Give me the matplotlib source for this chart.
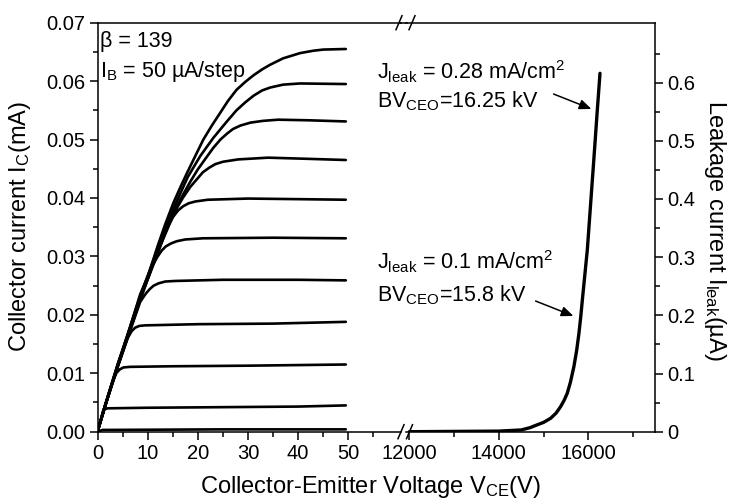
import matplotlib
matplotlib.use("Agg")
import matplotlib.pyplot as plt
from matplotlib.lines import Line2D
from matplotlib.patches import FancyArrowPatch
from matplotlib.ticker import MultipleLocator, FixedLocator

plt.rcParams['font.family'] = ['Liberation Sans', 'DejaVu Sans']
plt.rcParams['mathtext.default'] = 'regular'

# ---- Output characteristics (V_CE in V, I_C in mA), IB = 0 ... 500 uA
v0 = [0, 1, 25, 49.5]
i0 = [0, 0.0003, 0.0004, 0.0004]
v1 = [0, 1.2, 2, 10, 25, 40, 49.5]
i1 = [0, 0.0038, 0.0040, 0.0041, 0.0042, 0.0043, 0.0045]
v2 = [0, 1.5, 3, 3.8, 4.5, 5.2, 6.5, 15, 30, 49.5]
i2 = [0, 0.0042, 0.0085, 0.0101, 0.0107, 0.0110, 0.0111, 0.0112, 0.0113, 0.0115]
v3 = [0, 1.5, 4, 6, 6.8, 7.5, 8.3, 9.5, 20, 35, 49.5]
i3 = [0, 0.0043, 0.0110, 0.0160, 0.0172, 0.0178, 0.0181, 0.0182, 0.0184, 0.0185, 0.0188]
v4 = [0, 1.5, 4, 8.5, 9.6, 10.4, 11.2, 12.2, 13.5, 15.5, 25, 40, 49.5]
i4 = [0, 0.0044, 0.0111, 0.0222, 0.0236, 0.0244, 0.0250, 0.0254, 0.0257, 0.0258, 0.0260, 0.0260, 0.0259]
v5 = [0, 1.5, 4, 8.5, 11, 12, 12.8, 13.6, 14.6, 15.8, 17.5, 21, 35, 49.5]
i5 = [0, 0.0044, 0.0111, 0.0225, 0.0285, 0.0300, 0.0310, 0.0317, 0.0322, 0.0326, 0.0329, 0.0331, 0.0332, 0.0331]
v6 = [0, 1.5, 4, 8.5, 12, 14, 15.1, 16.1, 17.1, 18.2, 19.5, 22, 30, 40, 49.5]
i6 = [0, 0.0044, 0.0112, 0.0227, 0.0305, 0.0352, 0.0368, 0.0379, 0.0386, 0.0391, 0.0394, 0.0397, 0.0399, 0.0398, 0.0397]
v7 = [0, 1.5, 4, 8.5, 12, 15.5, 17, 18.5, 19.8, 21, 22.3, 23.5, 25, 28, 34, 42, 49.5]
i7 = [0, 0.0044, 0.0112, 0.0228, 0.0308, 0.0378, 0.0400, 0.0419, 0.0432, 0.0444, 0.0452, 0.0458, 0.0462, 0.0466, 0.0469, 0.0467, 0.0465]
v8 = [0, 1.5, 4, 8.5, 12, 15.5, 18.5, 20, 21.5, 23.1, 24.5, 25.8, 27, 28.5, 30.5, 33, 36, 42, 49.5]
i8 = [0, 0.0044, 0.0113, 0.0230, 0.0310, 0.0382, 0.0428, 0.0449, 0.0467, 0.0486, 0.0500, 0.0510, 0.0518, 0.0524, 0.0529, 0.0532, 0.0534, 0.0533, 0.0531]
v9 = [0, 1.5, 4, 8.5, 12, 15.3, 18, 20.5, 23.1, 25.7, 27.7, 29.5, 31.1, 32.8, 34.4, 37, 40.4, 49.5]
i9 = [0, 0.0045, 0.0114, 0.0232, 0.0313, 0.0385, 0.0436, 0.0472, 0.0503, 0.0530, 0.0550, 0.0564, 0.0575, 0.0584, 0.0589, 0.0594, 0.0596, 0.0595]
v10 = [0, 1.5, 4, 6, 8.5, 10, 12, 13.5, 15.1, 16.5, 17.8, 19.5, 21.1, 22.8, 24.4, 26, 27.7, 29.5,
       31.1, 32.8, 34.4, 37, 40.4, 43, 45, 49.5]
i10 = [0, 0.0045, 0.0115, 0.0165, 0.0235, 0.0265, 0.0318, 0.0355, 0.0391, 0.0418, 0.0442, 0.0472, 0.0500,
       0.0524, 0.0545, 0.0566, 0.0585, 0.0599, 0.0610, 0.0620, 0.0628, 0.0639, 0.0648, 0.0652, 0.0654, 0.0655]

# ---- Blocking characteristic (V_CE in V, I_leak in uA)
v_leak = [12000, 13000, 14000, 14500, 14700, 14846, 15000, 15157, 15280, 15380, 15460, 15529, 15600,
          15678, 15740, 15790, 15830, 15866, 15920, 15977, 16050, 16112, 16160, 16201, 16261]
i_leak = [0, 0.0005, 0.001, 0.003, 0.007, 0.0115, 0.016, 0.023, 0.032, 0.043, 0.054, 0.066, 0.085,
          0.112, 0.140, 0.169, 0.197, 0.226, 0.268, 0.312, 0.390, 0.456, 0.508, 0.553, 0.616]

left_xticks = [0, 10, 20, 30, 40, 50]
right_xticks = [12000, 14000, 16000]
left_yticks = [0.00, 0.01, 0.02, 0.03, 0.04, 0.05, 0.06, 0.07]
left_ylabels = ['0.00', '0.01', '0.02', '0.03', '0.04', '0.05', '0.06', '0.07']
right_yticks = [0, 0.1, 0.2, 0.3, 0.4, 0.5, 0.6]
right_ylabels = ['0', '0.1', '0.2', '0.3', '0.4', '0.5', '0.6']

W, H = 730, 503
fig = plt.figure(figsize=(W / 100, H / 100), dpi=100)

def fx(px):
    return px / W

def fy(py):
    return 1 - py / H

ybot, ytop = 431.7, 22.7
axL = fig.add_axes([fx(97.5), fy(ybot), fx(401 - 97.5), (ybot - ytop) / H])
axR = fig.add_axes([fx(406), fy(ybot), fx(655 - 406), (ybot - ytop) / H])

FS = 14.5
FS_ANN = 15.5
FS_LAB = 17
lw_curve = 1.9
for v, i in [(v0, i0), (v1, i1), (v2, i2), (v3, i3), (v4, i4), (v5, i5),
             (v6, i6), (v7, i7), (v8, i8), (v9, i9), (v10, i10)]:
    axL.plot(v, i, color='black', lw=lw_curve, solid_joinstyle='round', solid_capstyle='round')

axL.set_xlim(0, 60.5)
axL.set_ylim(0, 0.07)
axL.set_xticks(left_xticks)
axL.xaxis.set_minor_locator(FixedLocator([5, 15, 25, 35, 45, 55]))
axL.set_yticks(left_yticks)
axL.set_yticklabels(left_ylabels)
axL.yaxis.set_minor_locator(MultipleLocator(0.005))
axL.spines['right'].set_visible(False)
axL.tick_params(axis='both', which='major', direction='out', length=6, width=1.1, labelsize=FS, pad=3)
axL.tick_params(axis='both', which='minor', direction='out', length=3.5, width=1.1)
axL.tick_params(axis='x', top=False, which='both')

axR.plot(v_leak, i_leak, color='black', lw=2.4, solid_capstyle='round', solid_joinstyle='round')
axR.set_xlim(11926, 17490)
axR.set_ylim(0, 0.703)
axR.set_xticks(right_xticks)
axR.xaxis.set_minor_locator(FixedLocator([13000, 15000, 17000]))
axR.set_yticks(right_yticks)
axR.set_yticklabels(right_ylabels)
axR.yaxis.set_minor_locator(FixedLocator([0.05, 0.15, 0.25, 0.35, 0.45, 0.55, 0.65]))
axR.yaxis.tick_right()
axR.spines['left'].set_visible(False)
axR.tick_params(axis='both', which='major', direction='out', length=6, width=1.1, labelsize=FS, pad=3)
axR.tick_params(axis='both', which='minor', direction='out', length=3.5, width=1.1)
axR.tick_params(axis='y', left=False, which='both')
axR.tick_params(axis='x', top=False, which='both')

for ax in (axL, axR):
    for s in ax.spines.values():
        s.set_linewidth(1.1)

# break marks
def slash(cx, cy):
    fig.add_artist(Line2D([fx(cx - 3), fx(cx + 3)], [fy(cy + 7), fy(cy - 7)],
                          color='black', lw=1.1, transform=fig.transFigure))

fig.add_artist(Line2D([fx(400), fx(407)], [fy(ytop), fy(ytop)], color='black', lw=1.1,
                      transform=fig.transFigure))
for cx in (399, 412):
    slash(cx, ytop)
for cx in (401, 409.5):
    slash(cx, ybot)

# annotations
fig.text(fx(100), fy(42), 'β = 139', fontsize=FS_ANN, va='center', ha='left')
fig.text(fx(100), fy(72), 'I$_B$ = 50 µA/step', fontsize=FS_ANN, va='center', ha='left')
fig.text(fx(377), fy(72), 'J$_{leak}$ = 0.28 mA/cm$^2$', fontsize=FS_ANN, va='center', ha='left')
fig.text(fx(377), fy(101), 'BV$_{CEO}$=16.25 kV', fontsize=FS_ANN, va='center', ha='left')
fig.text(fx(377), fy(262), 'J$_{leak}$ = 0.1 mA/cm$^2$', fontsize=FS_ANN, va='center', ha='left')
fig.text(fx(377), fy(295), 'BV$_{CEO}$=15.8 kV', fontsize=FS_ANN, va='center', ha='left')

arrow_kw = dict(arrowstyle='-|>,head_length=0.6,head_width=0.25', color='black', lw=1.1)
fig.add_artist(FancyArrowPatch((fx(551), fy(93)), (fx(594), fy(110)),
                               transform=fig.transFigure, mutation_scale=12, **arrow_kw))
fig.add_artist(FancyArrowPatch((fx(533), fy(300)), (fx(576), fy(317)),
                               transform=fig.transFigure, mutation_scale=12, **arrow_kw))

fig.text(fx(20), fy(226), 'Collector current I$_C$(mA)', rotation=90, fontsize=FS_LAB,
         ha='center', va='center')
fig.text(fx(715), fy(230), 'Leakage current I$_{leak}$(µA)', rotation=270, fontsize=FS_LAB,
         ha='center', va='center')
fig.text(fx(370), fy(487), 'Collector-Emitter Voltage V$_{CE}$(V)', fontsize=FS_LAB,
         ha='center', va='center')

fig.savefig('out.png', dpi=100)
